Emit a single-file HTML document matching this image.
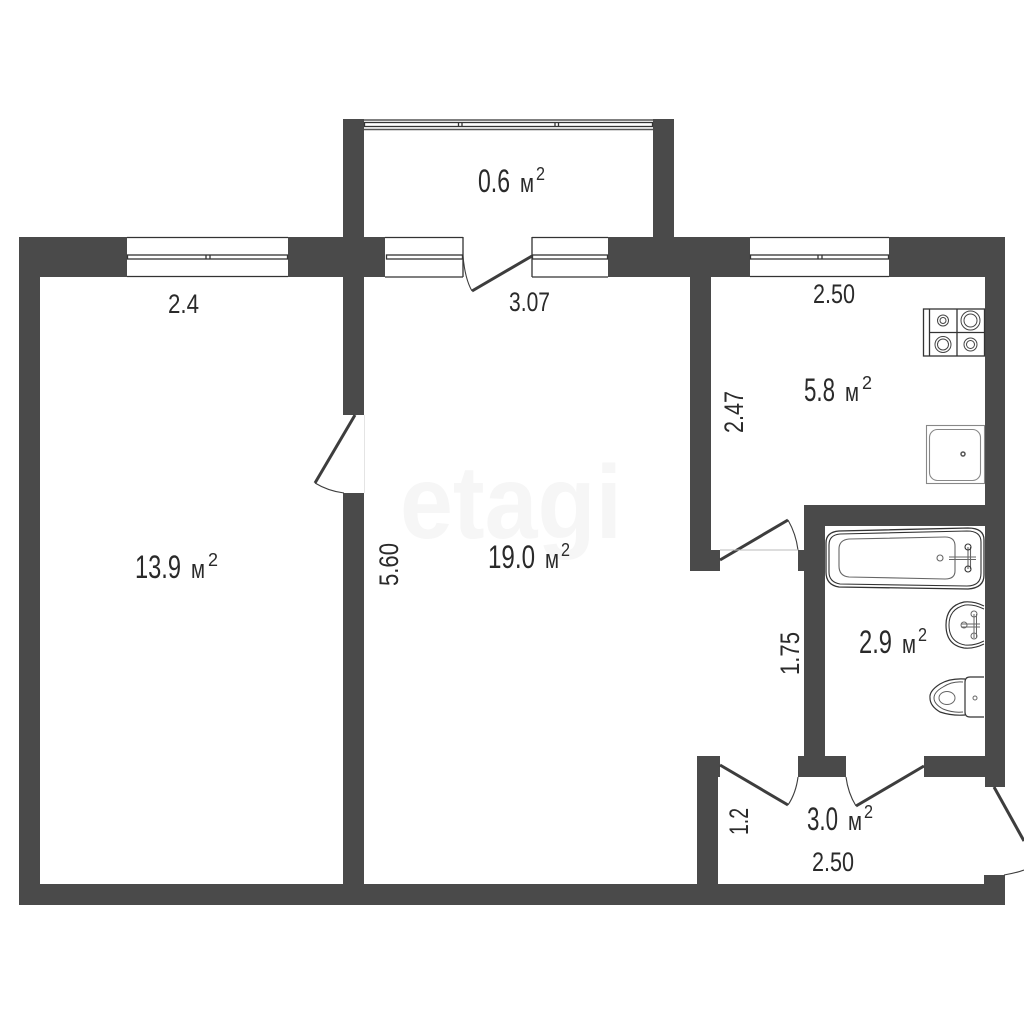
<!DOCTYPE html>
<html><head><meta charset="utf-8"><style>
html,body{margin:0;padding:0;background:#fff;width:1024px;height:1024px;overflow:hidden}
svg{display:block}
text{font-family:"Liberation Sans",sans-serif;fill:#2a2a2a}
.l{font-size:32px}
.m{font-size:27px}
.s{font-size:18px}
.d{font-size:27px}
</style></head><body>
<svg width="1024" height="1024" viewBox="0 0 1024 1024" xmlns="http://www.w3.org/2000/svg">
<rect width="1024" height="1024" fill="#fff"/>
<text x="400" y="538" font-size="104" font-weight="700" style="fill:#f6f6f6" textLength="222" lengthAdjust="spacingAndGlyphs">etagi</text>
<g fill="#4a4a4a">
<rect x="343" y="119" width="21" height="118"/>
<rect x="653" y="119" width="21" height="118"/>
<rect x="19" y="237" width="108" height="40"/>
<rect x="288" y="237" width="97" height="40"/>
<rect x="608" y="237" width="142" height="40"/>
<rect x="889" y="237" width="116" height="40"/>
<rect x="19" y="237" width="21" height="668"/>
<rect x="19" y="884" width="986" height="21"/>
<rect x="343" y="277" width="21" height="138"/>
<rect x="343" y="493" width="21" height="391"/>
<rect x="690" y="277" width="21" height="294"/>
<rect x="690" y="550" width="30" height="21"/>
<rect x="798" y="550" width="8" height="21"/>
<rect x="804" y="505" width="181" height="21"/>
<rect x="804" y="505" width="21" height="270"/>
<rect x="985" y="237" width="20" height="550"/>
<rect x="798" y="756" width="48" height="21"/>
<rect x="924" y="756" width="61" height="21"/>
<rect x="697" y="756" width="21" height="128"/>
<rect x="718" y="756" width="2" height="21"/>
<rect x="984" y="875" width="21" height="10"/>
</g>
<!-- windows -->
<g fill="none" stroke="#333" stroke-width="1.3">
<path d="M127 237.5H288M127 276.5H288"/>
<rect x="127.5" y="255" width="160" height="4"/>
<path d="M206 255v4M210 255v4"/>
<path d="M385 237.5H463M385 277H463M463 237V277"/>
<rect x="386.5" y="255" width="76" height="4"/>
<path d="M532 237.5H608M532 277H608M532 237V277"/>
<rect x="532.5" y="255" width="75" height="4"/>
<path d="M750 237.5H889M750 276.5H889"/>
<rect x="750.5" y="255" width="138" height="4"/>
<path d="M818 255v4M822 255v4"/>
<path d="M364 120H653"/>
<rect x="364.5" y="122.5" width="288" height="4"/>
<path d="M458.500 122.500v4M462 122.500v4M555 122.500v4M558.500 122.500v4"/>
<path d="M364 129.500H653" stroke-width="1.600" stroke="#555"/>
</g>
<!-- doors -->
<g fill="none" stroke="#3d3d3d" stroke-width="3">
<path d="M532 256L472 291"/>
<path d="M355 415L315 483"/>
<path d="M720 560L788 520"/>
<path d="M720 765L788 805"/>
<path d="M924 766L856 806"/>
<path d="M994 787L1024 841"/>
</g>
<g fill="none" stroke="#3d3d3d" stroke-width="1.100">
<path d="M463 256Q465 279 472 291"/>
<path d="M315 483Q328 491 344 493"/>
<path d="M788 520Q796 534 798 550"/>
<path d="M788 805Q796 793 798 777"/>
<path d="M856 806Q848 793 846 777"/>
<path d="M1004 875Q1016 873 1024 870"/>
</g>
<path d="M720 550H798" stroke="#bbb" stroke-width="1"/>
<path d="M364.500 415V493" stroke="#e4e4e4" stroke-width="1"/>
<!-- stove -->
<g fill="none" stroke="#333" stroke-width="1.300">
<rect x="923.500" y="309" width="61" height="47"/>
<path d="M929.500 309V356M957 309V356M929.500 332.500H984"/>
</g>
<g fill="none" stroke="#444" stroke-width="1">
<circle cx="943" cy="320.500" r="5.500"/><circle cx="943" cy="320.500" r="3"/>
<circle cx="970.500" cy="320.500" r="9.500"/><circle cx="970.500" cy="320.500" r="6.500"/>
<circle cx="943" cy="344.500" r="8"/><circle cx="943" cy="344.500" r="5.500"/>
<circle cx="970.500" cy="344.500" r="6.500"/><circle cx="970.500" cy="344.500" r="4"/>
</g>
<!-- kitchen sink -->
<g fill="none" stroke="#888" stroke-width="1.100">
<rect x="926.500" y="425.500" width="58" height="58"/>
<rect x="929.500" y="429.500" width="51" height="51" rx="8"/>
</g>
<circle cx="963" cy="454" r="2" fill="none" stroke="#555" stroke-width="1.500"/>
<!-- bath -->
<g fill="none" stroke="#333" stroke-width="1.100">
<path d="M839 531L968 528Q984 528 984 540V575Q984 588 968 589L839 587Q826 585 826 572V543Q826 532 839 531Z" stroke-width="1.300"/>
<path d="M840 534L967 531Q981 531 981 542V573Q981 586 967 586L840 584Q829 582 829 572V545Q829 535 840 534Z"/>
<path d="M849 539L945 537Q955 537 955 546V571Q955 579 945 579L849 577Q839 576 839 566V549Q839 540 849 539Z" stroke="#666"/>
<circle cx="940" cy="558" r="3" stroke="#666"/>
<path d="M949 557L976 557M949 559.500L976 559.500M968 547V569M970.500 547V569" stroke="#666"/>
<circle cx="968" cy="547" r="3"/><circle cx="968" cy="569" r="3"/>
</g>
<!-- basin -->
<g fill="none" stroke="#333" stroke-width="1.200">
<path d="M984 606Q974 601 964 602Q946 606 946 625Q946 645 964 648Q974 649 984 644"/>
<path d="M984 609Q974 604 965 605Q949 609 949 625Q949 642 965 645Q974 646 984 641" stroke-width="1"/>
<path d="M961 624H980M961 627H980M974 614V638M976.500 614V638" stroke="#666" stroke-width="1"/>
<circle cx="974" cy="614" r="3" stroke="#666" stroke-width="1"/>
<circle cx="974" cy="636" r="3" stroke="#666" stroke-width="1"/>
<circle cx="964" cy="625" r="3" stroke="#666" stroke-width="1"/>
</g>
<!-- toilet -->
<g fill="none" stroke="#333" stroke-width="1.200">
<path d="M965 679Q950 678 940 684Q929 691 930 698Q930 706 940 712Q952 716 965 715"/>
<path d="M963 682Q952 681 943 687Q934 692 934 698Q934 704 943 709Q953 713 963 712" stroke="#555" stroke-width="1"/>
<ellipse cx="947" cy="698" rx="8" ry="6.500" stroke="#666" stroke-width="1"/>
<path d="M984 677H970Q965 677 965 682V712Q965 717 970 717H984"/>
<circle cx="975" cy="698" r="2" stroke="#666" stroke-width="1"/>
</g>
<!-- area labels -->
<text class="l" x="478" y="192" textLength="32" lengthAdjust="spacingAndGlyphs">0.6</text><text class="m" x="520" y="192" textLength="14" lengthAdjust="spacingAndGlyphs">м</text><text class="s" x="536" y="180" textLength="9" lengthAdjust="spacingAndGlyphs">2</text>
<text class="l" x="135" y="578" textLength="46" lengthAdjust="spacingAndGlyphs">13.9</text><text class="m" x="191" y="578" textLength="14" lengthAdjust="spacingAndGlyphs">м</text><text class="s" x="208" y="566" textLength="10" lengthAdjust="spacingAndGlyphs">2</text>
<text class="l" x="488" y="568" textLength="47" lengthAdjust="spacingAndGlyphs">19.0</text><text class="m" x="545" y="568" textLength="14" lengthAdjust="spacingAndGlyphs">м</text><text class="s" x="561" y="556" textLength="9" lengthAdjust="spacingAndGlyphs">2</text>
<text class="l" x="804" y="401" textLength="31" lengthAdjust="spacingAndGlyphs">5.8</text><text class="m" x="845" y="401" textLength="14" lengthAdjust="spacingAndGlyphs">м</text><text class="s" x="862" y="389" textLength="10" lengthAdjust="spacingAndGlyphs">2</text>
<text class="l" x="859" y="653" textLength="33" lengthAdjust="spacingAndGlyphs">2.9</text><text class="m" x="902" y="653" textLength="14" lengthAdjust="spacingAndGlyphs">м</text><text class="s" x="918" y="641" textLength="9" lengthAdjust="spacingAndGlyphs">2</text>
<text class="l" x="807" y="830" textLength="31" lengthAdjust="spacingAndGlyphs">3.0</text><text class="m" x="848" y="830" textLength="14" lengthAdjust="spacingAndGlyphs">м</text><text class="s" x="864" y="818" textLength="9" lengthAdjust="spacingAndGlyphs">2</text>
<!-- dimensions -->
<text class="d" x="168" y="313" textLength="31" lengthAdjust="spacingAndGlyphs">2.4</text>
<text class="d" x="509" y="311" textLength="41" lengthAdjust="spacingAndGlyphs">3.07</text>
<text class="d" x="813" y="303" textLength="42" lengthAdjust="spacingAndGlyphs">2.50</text>
<text class="d" x="812" y="871" textLength="42" lengthAdjust="spacingAndGlyphs">2.50</text>
<text class="d" transform="translate(398 586) rotate(-90)" textLength="43" lengthAdjust="spacingAndGlyphs">5.60</text>
<text class="d" transform="translate(743 433) rotate(-90)" textLength="42" lengthAdjust="spacingAndGlyphs">2.47</text>
<text class="d" transform="translate(799 675) rotate(-90)" textLength="43" lengthAdjust="spacingAndGlyphs">1.75</text>
<text class="d" transform="translate(748 835) rotate(-90)" textLength="27" lengthAdjust="spacingAndGlyphs">1.2</text>
</svg>
</body></html>
